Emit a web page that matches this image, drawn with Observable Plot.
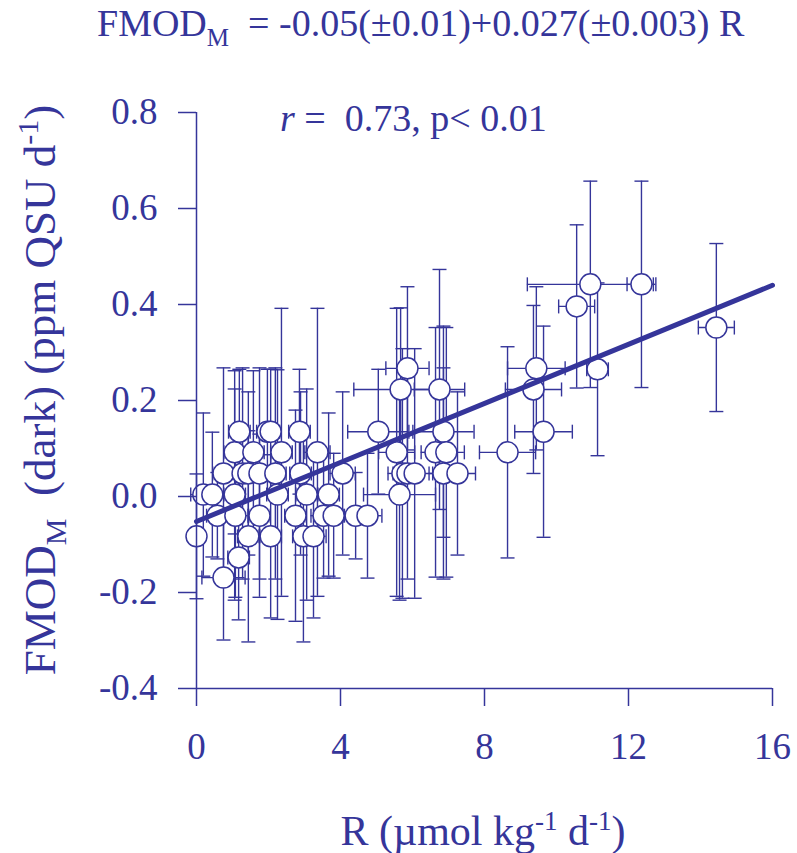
<!DOCTYPE html>
<html><head><meta charset="utf-8">
<script src="https://cdn.jsdelivr.net/npm/d3@7"></script>
<script src="https://cdn.jsdelivr.net/npm/@observablehq/plot@0.6"></script>
<style>body{margin:0;background:#fff}</style>
</head><body><div id="chart"></div>
<script>
// Data
const R     = [0.00,0.19,0.44,0.58,0.75,0.75,1.06,1.06,1.08,1.17,1.19,1.28,1.44,1.44,1.58,1.75,1.75,1.97,2.06,2.06,2.19,2.25,2.36,2.75,2.86,2.89,2.97,3.06,3.25,3.36,3.53,3.67,3.81,4.06,4.42,4.75,5.05,5.56,5.64,5.67,5.86,5.72,5.86,6.06,6.64,6.75,6.86,6.86,6.94,7.25,8.64,9.36,9.44,9.64,10.56,10.94,11.14,12.36,14.44];
const FMOD  = [-0.083,0.004,0.004,-0.040,0.048,-0.169,0.092,0.004,-0.040,-0.127,0.135,0.048,0.048,-0.083,0.092,0.048,-0.040,0.135,0.135,-0.083,0.048,0.004,0.092,-0.040,0.135,0.048,-0.083,0.004,-0.083,0.092,-0.040,0.004,-0.040,0.048,-0.040,-0.040,0.135,0.092,0.004,0.223,0.267,0.048,0.048,0.048,0.092,0.223,0.135,0.048,0.092,0.048,0.092,0.223,0.267,0.135,0.396,0.442,0.265,0.442,0.352];
const Rerr  = [0.05,0.35,0.40,0.30,0.30,0.60,0.30,0.30,0.35,0.30,0.30,0.30,0.25,0.30,0.30,0.30,0.30,0.30,0.25,0.30,0.30,0.30,0.30,0.30,0.30,0.30,0.30,0.30,0.35,0.35,0.35,0.30,0.30,0.35,0.35,0.40,0.85,0.50,1.00,1.30,0.60,0.40,0.40,0.50,0.40,0.70,0.85,0.40,0.50,0.50,0.78,0.78,0.80,0.80,0.50,1.75,0.30,0.40,0.50];
const Ferr  = [0.13,0.17,0.13,0.09,0.22,0.13,0.17,0.22,0.17,0.13,0.13,0.22,0.17,0.22,0.17,0.22,0.17,0.13,0.13,0.17,0.22,0.26,0.30,0.22,0.13,0.17,0.22,0.22,0.17,0.30,0.13,0.17,0.13,0.17,0.09,0.13,0.13,0.30,0.22,0.17,0.17,0.26,0.22,0.26,0.26,0.25,0.22,0.22,0.26,0.17,0.22,0.175,0.17,0.22,0.17,0.215,0.18,0.215,0.175];
const fitR  = [0, 16];
const fitF  = [-0.052, 0.44];
const xTicks = [0, 4, 8, 12, 16];
const xTickLabels = ["0", "4", "8", "12", "16"];
const yTicks = [-0.4, -0.2, 0, 0.2, 0.4, 0.6, 0.8];
const yTickLabels = ["-0.4", "-0.2", "0.0", "0.2", "0.4", "0.6", "0.8"];

const data = R.map((r, i) => ({r, f: FMOD[i], dx: Rerr[i], dy: Ferr[i]}));
const fit = fitR.map((r, i) => ({r, f: fitF[i]}));
const C = "#35359a";
const FONT = "Liberation Serif";

const capH = {draw(ctx, size) { const w = Math.sqrt(size / Math.PI); ctx.moveTo(-w, 0); ctx.lineTo(w, 0); }};
const capV = {draw(ctx, size) { const w = Math.sqrt(size / Math.PI); ctx.moveTo(0, -w); ctx.lineTo(0, w); }};
const SW = 1.4;

const plot = Plot.plot({
  width: 797, height: 853,
  marginTop: 112, marginBottom: 165, marginLeft: 196, marginRight: 25,
  style: {fontFamily: FONT, color: C, background: "white", overflow: "visible"},
  x: {domain: [0, 16]},
  y: {domain: [-0.4, 0.8]},
  marks: [
    Plot.ruleX(data, {x: "r", y1: d => d.f - d.dy, y2: d => d.f + d.dy, stroke: C, strokeWidth: SW}),
    Plot.ruleY(data, {y: "f", x1: d => d.r - d.dx, x2: d => d.r + d.dx, stroke: C, strokeWidth: SW}),
    Plot.dot(data, {x: "r", y: d => d.f + d.dy, symbol: capH, r: 7, stroke: C, strokeWidth: SW}),
    Plot.dot(data, {x: "r", y: d => d.f - d.dy, symbol: capH, r: 7, stroke: C, strokeWidth: SW}),
    Plot.dot(data, {x: d => d.r - d.dx, y: "f", symbol: capV, r: 7, stroke: C, strokeWidth: SW}),
    Plot.dot(data, {x: d => d.r + d.dx, y: "f", symbol: capV, r: 7, stroke: C, strokeWidth: SW}),
    Plot.dot(data, {x: "r", y: "f", r: 10.5, fill: "white", stroke: C, strokeWidth: 1.5}),
    Plot.line(fit, {x: "r", y: "f", stroke: C, strokeWidth: 5}),
    Plot.ruleX([0], {y1: -0.4, y2: 0.8, stroke: C, strokeWidth: 1.5}),
    Plot.ruleY([-0.4], {x1: 0, x2: 16, stroke: C, strokeWidth: 1.5}),
    Plot.axisX({ticks: xTicks, tickFormat: d => xTickLabels[xTicks.indexOf(d)], tickSize: 18, tickPadding: 26, fontSize: 37, label: null, stroke: C, strokeWidth: 1.5, fill: C}),
    Plot.axisY({ticks: yTicks, tickFormat: d => yTickLabels[yTicks.findIndex(t => Math.abs(t - d) < 1e-9)], tickSize: 18, tickPadding: 21, fontSize: 37, label: null, stroke: C, strokeWidth: 1.5, fill: C})
  ]
});

document.getElementById("chart").appendChild(plot);
const svg = d3.select(plot);

// Title with subscript
const t = svg.append("text").attr("x", 97).attr("y", 36).attr("fill", C).attr("text-anchor", "start")
  .attr("font-family", FONT).attr("font-size", 38).attr("xml:space", "preserve");
t.append("tspan").text("FMOD");
t.append("tspan").attr("font-size", 25).attr("dy", 10).text("M");
t.append("tspan").attr("dy", -10).text("  = -0.05(±0.01)+0.027(±0.003) R");

// r annotation
const a = svg.append("text").attr("x", 280).attr("y", 131).attr("fill", C).attr("text-anchor", "start")
  .attr("font-family", FONT).attr("font-size", 38).attr("xml:space", "preserve");
a.append("tspan").attr("font-style", "italic").text("r");
a.append("tspan").text(" =  0.73, p< 0.01");

// x label
const xl = svg.append("text").attr("x", 483).attr("y", 845).attr("text-anchor", "middle").attr("fill", C)
  .attr("font-family", FONT).attr("font-size", 42);
xl.append("tspan").text("R (µmol kg");
xl.append("tspan").attr("font-size", 27).attr("dy", -15).text("-1");
xl.append("tspan").attr("dy", 15).text(" d");
xl.append("tspan").attr("font-size", 27).attr("dy", -15).text("-1");
xl.append("tspan").attr("dy", 15).text(")");

// y label
const yl = svg.append("text").attr("transform", "translate(55,390) rotate(-90)").attr("text-anchor", "middle").attr("fill", C)
  .attr("font-family", FONT).attr("font-size", 45).attr("xml:space", "preserve");
yl.append("tspan").text("FMOD");
yl.append("tspan").attr("font-size", 30).attr("dy", 11).text("M");
yl.append("tspan").attr("dy", -11).text("  (dark) (ppm QSU d");
yl.append("tspan").attr("font-size", 30).attr("dy", -17).text("-1");
yl.append("tspan").attr("dy", 17).text(")");
</script>
</body></html>
